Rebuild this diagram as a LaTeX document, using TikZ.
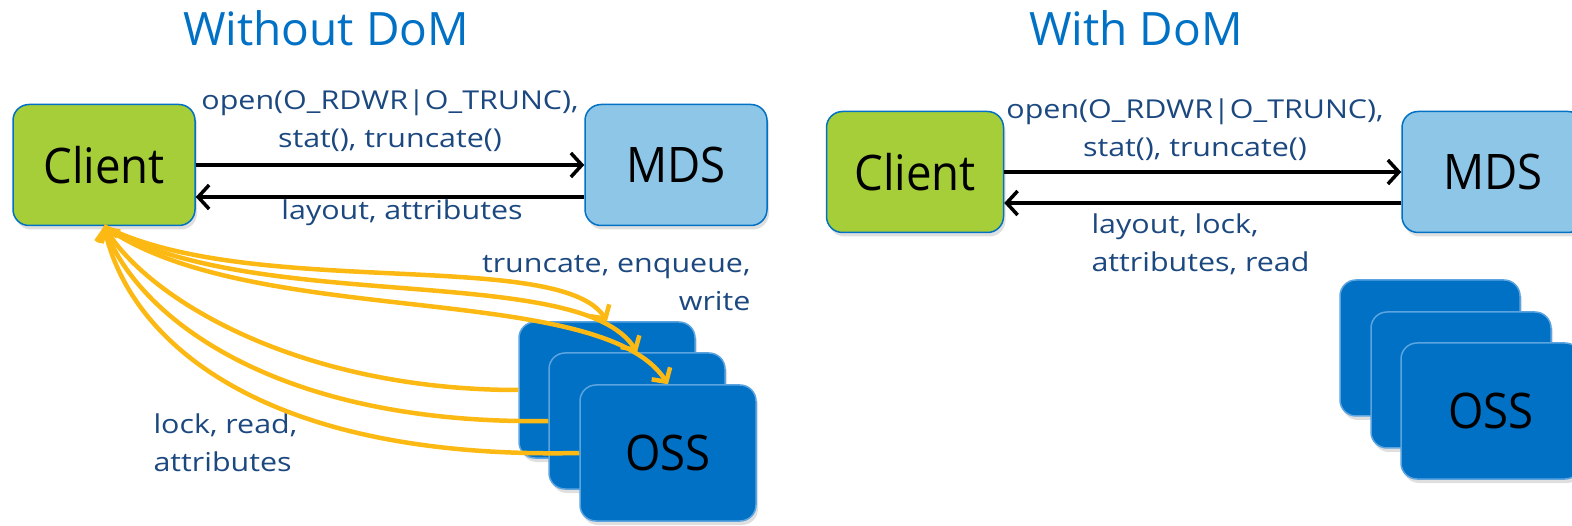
\documentclass[tikz,border=0pt]{standalone}
\usepackage{fontspec}
\setmainfont{Open Sans}
\newfontfamily\boxfont{Open Sans}[FakeStretch=0.93]
\newfontfamily\lblfont{Open Sans}[FakeStretch=1.17]
\usetikzlibrary{arrows.meta,shadows}
\definecolor{intelblue}{RGB}{0,113,197}
\definecolor{clientgreen}{RGB}{166,206,57}
\definecolor{mdsblue}{RGB}{142,198,232}
\definecolor{ossedge}{RGB}{91,164,224}
\definecolor{labelblue}{RGB}{28,72,128}
\definecolor{callorange}{RGB}{253,185,19}
\begin{document}
\begin{tikzpicture}[x=1pt,y=-1pt,
	box/.style={rectangle,rounded corners=16pt,draw=intelblue,line width=1.5pt,
		minimum width=182pt,minimum height=121pt,font=\boxfont\fontsize{49}{49}\selectfont,
		drop shadow={shadow xshift=2pt,shadow yshift=-4pt,opacity=.25}},
	ossbox/.style={box,fill=intelblue,draw=ossedge,minimum width=176pt,minimum height=136pt},
	title/.style={text=intelblue,font=\fontsize{46}{46}\selectfont},
	lbl/.style={text=labelblue,font=\lblfont\fontsize{26}{38}\selectfont},
	msg/.style={line width=3.5pt,-{Straight Barb[length=11pt,width=24pt]}},
	call/.style={draw=callorange,line width=4.5pt,-{Straight Barb[length=10pt,width=22pt]}}]
	\useasboundingbox (0,0) rectangle (1572,526);
	% without DoM
	\node[title] (t1) at (326,28) {Without DoM};
	\node[box,fill=clientgreen] (client) at (104,165) {Client};
	\node[box,fill=mdsblue] (mds) at (676,165) {MDS};
	\node[ossbox] (oss1) at (607,390) {};
	\node[ossbox] (oss2) at (637,421) {};
	\node[ossbox] (oss3) at (668,453) {OSS};
	\draw[msg] (client.east) -- (mds.west);
	\draw[msg] ([yshift=-32pt]mds.west) -- ([yshift=-32pt]client.east);
	\node[lbl,align=center] (l1) at (390,121) {open(O\_RDWR|O\_TRUNC),\\stat(), truncate()};
	\node[lbl] (l2) at (402,213) {layout, attributes};
	\node[lbl,align=right,anchor=east] (l3) at (754,283) {truncate, enqueue,\\write};
	\node[lbl,align=left,anchor=west] (l4) at (150,443) {lock, read,\\attributes};
	\draw[call] (client.south) .. controls (250,300) and (560,248) .. (oss1.north);
	\draw[call] (client.south) .. controls (250,315) and (580,262) .. (oss2.north);
	\draw[call] (client.south) .. controls (250,330) and (600,280) .. (oss3.north);
	\draw[call] (oss1.west) .. controls (300,390) and (150,300) .. (client.south);
	\draw[call] (oss2.west) .. controls (280,425) and (140,320) .. (client.south);
	\draw[call] (oss3.west) .. controls (260,460) and (130,340) .. (client.south);
	% with DoM
	\node[title] (t2) at (1136,28) {With DoM};
	\node[box,fill=clientgreen,minimum width=177pt] (client2) at (915,172) {Client};
	\node[box,fill=mdsblue] (mds2) at (1493,172) {MDS};
	\node[ossbox,minimum width=180pt] (oss4) at (1430,348) {};
	\node[ossbox,minimum width=180pt] (oss5) at (1461,380) {};
	\node[ossbox,minimum width=180pt] (oss6) at (1491,411) {OSS};
	\draw[msg] (client2.east) -- (mds2.west);
	\draw[msg] ([yshift=-31pt]mds2.west) -- ([yshift=-31pt]client2.east);
	\node[lbl,align=center] (l5) at (1195,130) {open(O\_RDWR|O\_TRUNC),\\stat(), truncate()};
	\node[lbl,align=left,anchor=west] (l6) at (1088,244) {layout, lock,\\attributes, read};
\end{tikzpicture}
\end{document}
